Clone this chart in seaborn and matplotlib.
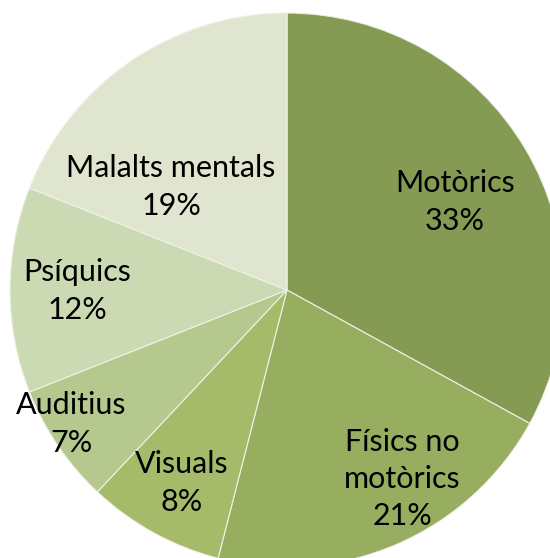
import matplotlib
matplotlib.use("Agg")
import matplotlib.pyplot as plt
import seaborn as sns

categories = ["Motòrics", "Físics no\nmotòrics", "Visuals", "Auditius", "Psíquics", "Malalts mentals"]
values = [33, 21, 8, 7, 12, 19]
colors = ["#859a52", "#97ad5f", "#a6bb6a", "#b5c88d", "#ccdab3", "#dfe5cf"]
# label centres in pixel space (x from left, y from top)
label_pos = [(455, 202), (402, 479), (182, 483), (71, 424), (77, 291), (171, 187)]

sns.set_style("white")
plt.rcParams["font.family"] = ["Lato", "DejaVu Sans"]

W, H = 550, 558
cx, cy, R = 287, 290, 277
fig = plt.figure(figsize=(W / 100, H / 100), dpi=100)
ax = fig.add_axes([0, 0, 1, 1])
ax.pie(values, colors=colors, startangle=90, counterclock=False, radius=R,
       center=(0, 0), wedgeprops=dict(edgecolor="#eef2e4", linewidth=0.8))
ax.set_xlim(-cx, W - cx)
ax.set_ylim(-(H - cy), cy)
ax.set_aspect("equal")
ax.axis("off")

for cat, v, (px, py) in zip(categories, values, label_pos):
    ax.text(px - cx, cy - py, f"{cat}\n{v}%", ha="center", va="center",
            fontsize=22, linespacing=1.4, color="black")

fig.savefig("out.png", dpi=100)
